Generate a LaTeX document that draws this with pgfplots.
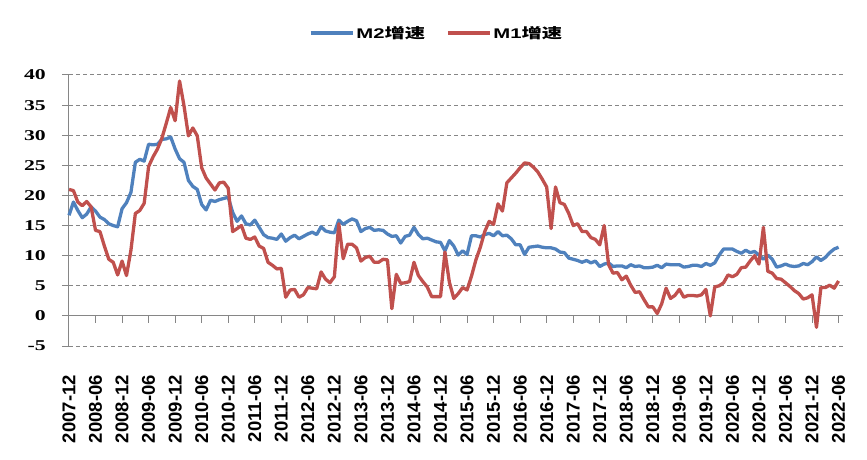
\documentclass[border=0pt]{standalone}
\usepackage{fontspec}
\usepackage{graphicx}
\usepackage{pgfplots}
\usepackage{pgfplotstable}
\pgfplotsset{compat=1.18}
\setmainfont{Liberation Serif}
\newfontfamily\timesfont{Liberation Serif}
\newfontfamily\arialfont{Liberation Sans}
\newfontfamily\cjk{Noto Sans CJK SC}
\definecolor{m2blue}{HTML}{4F81BD}
\definecolor{m1red}{HTML}{C0504D}
\definecolor{axgray}{HTML}{868686}

% month index (0 = 2007-12), M2 and M1 year-on-year growth
\pgfplotstableread{
t m2 m1
0 16.7 21.0
1 18.9 20.8
2 17.5 18.9
3 16.3 18.3
4 16.9 19.0
5 18.1 18.1
6 17.4 14.2
7 16.4 14.0
8 16.0 11.6
9 15.3 9.4
10 15.0 8.9
11 14.8 6.8
12 17.8 9.1
13 18.8 6.7
14 20.5 10.9
15 25.5 17.0
16 26.0 17.5
17 25.7 18.7
18 28.5 24.8
19 28.4 26.4
20 28.5 27.7
21 29.3 29.5
22 29.4 32.0
23 29.7 34.6
24 27.7 32.4
25 26.1 39.0
26 25.5 34.9
27 22.5 29.9
28 21.5 31.2
29 21.0 29.9
30 18.5 24.6
31 17.6 22.9
32 19.2 21.9
33 19.0 20.9
34 19.3 22.1
35 19.5 22.2
36 19.7 21.2
37 17.2 14.0
38 15.7 14.5
39 16.6 15.0
40 15.3 12.9
41 15.1 12.7
42 15.9 13.1
43 14.7 11.6
44 13.5 11.2
45 13.0 8.9
46 12.9 8.4
47 12.7 7.8
48 13.6 7.9
49 12.4 3.1
50 13.0 4.3
51 13.4 4.4
52 12.8 3.1
53 13.2 3.5
54 13.6 4.7
55 13.9 4.6
56 13.5 4.5
57 14.8 7.3
58 14.1 6.1
59 13.9 5.5
60 13.8 6.5
61 15.9 15.3
62 15.2 9.5
63 15.7 11.9
64 16.1 11.9
65 15.8 11.3
66 14.0 9.1
67 14.5 9.7
68 14.7 9.9
69 14.2 8.9
70 14.3 8.9
71 14.2 9.4
72 13.6 9.3
73 13.2 1.2
74 13.3 6.9
75 12.1 5.4
76 13.2 5.5
77 13.4 5.7
78 14.7 8.9
79 13.5 6.7
80 12.8 5.7
81 12.9 4.8
82 12.6 3.2
83 12.3 3.2
84 12.2 3.2
85 10.8 10.6
86 12.5 5.6
87 11.6 2.9
88 10.1 3.7
89 10.8 4.7
90 10.2 4.3
91 13.3 6.6
92 13.3 9.3
93 13.1 11.4
94 13.5 14.0
95 13.7 15.7
96 13.3 15.2
97 14.0 18.6
98 13.3 17.4
99 13.4 22.1
100 12.8 22.9
101 11.8 23.7
102 11.8 24.6
103 10.2 25.4
104 11.4 25.3
105 11.5 24.7
106 11.6 23.9
107 11.4 22.7
108 11.3 21.4
109 11.3 14.5
110 11.1 21.4
111 10.6 18.8
112 10.5 18.5
113 9.6 17.0
114 9.4 15.0
115 9.2 15.3
116 8.9 14.0
117 9.2 14.0
118 8.8 13.0
119 9.1 12.7
120 8.2 11.8
121 8.6 15.0
122 8.8 8.5
123 8.2 7.1
124 8.3 7.2
125 8.3 6.0
126 8.0 6.6
127 8.5 5.1
128 8.2 3.9
129 8.3 4.0
130 8.0 2.7
131 8.0 1.5
132 8.1 1.5
133 8.4 0.4
134 8.0 2.0
135 8.6 4.6
136 8.5 2.9
137 8.5 3.4
138 8.5 4.4
139 8.1 3.1
140 8.2 3.4
141 8.4 3.4
142 8.4 3.3
143 8.2 3.5
144 8.7 4.4
145 8.4 0.0
146 8.8 4.8
147 10.1 5.0
148 11.1 5.5
149 11.1 6.8
150 11.1 6.5
151 10.7 6.9
152 10.4 8.0
153 10.9 8.1
154 10.5 9.1
155 10.7 10.0
156 10.1 8.6
157 9.4 14.7
158 10.1 7.4
159 9.4 7.1
160 8.1 6.2
161 8.3 6.1
162 8.6 5.5
163 8.3 4.9
164 8.2 4.2
165 8.3 3.7
166 8.7 2.8
167 8.5 3.0
168 9.0 3.5
169 9.8 -1.9
170 9.2 4.7
171 9.7 4.7
172 10.5 5.1
173 11.1 4.6
174 11.4 5.8
}\money

\newcommand\ylab[1]{\scalebox{1.45}[1]{\timesfont\bfseries\fontsize{15}{15}\selectfont #1}}

\begin{document}
\begin{tikzpicture}
\useasboundingbox (-69pt,-114pt) rectangle (798pt,346pt);
\begin{axis}[
  at={(0,0)}, anchor=south west,
  scale only axis, width=774pt, height=271pt,
  xmin=0, xmax=175, ymin=-5, ymax=40,
  separate axis lines,
  axis y line=left, axis x line=bottom,
  axis line style={-},
  y axis line style={axgray, line width=1pt},
  x axis line style={draw=none},
  ytick={-5,0,...,40},
  yticklabels={\ylab{-5},\ylab{0},\ylab{5},\ylab{10},\ylab{15},\ylab{20},\ylab{25},\ylab{30},\ylab{35},\ylab{40}},
  tick align=outside,
  major tick length=7pt,
  ytick style={axgray, line width=1pt},
  xtick style={draw=none},
  yticklabel style={anchor=east, inner sep=0pt, xshift=-16pt},
  xtick={0,6,...,174},
  xticklabels={2007-12,2008-06,2008-12,2009-06,2009-12,2010-06,2010-12,2011-06,2011-12,2012-06,2012-12,2013-06,2013-12,2014-06,2014-12,2015-06,2015-12,2016-06,2016-12,2017-06,2017-12,2018-06,2018-12,2019-06,2019-12,2020-06,2020-12,2021-06,2021-12,2022-06},
  xticklabel style={font=\arialfont\fontsize{18.5}{18.5}\selectfont\bfseries, rotate=90, anchor=east, inner sep=0pt},
  xticklabel shift=22pt,
  ymajorgrids,
  grid style={axgray, line width=1pt, dash pattern=on 4pt off 3pt},
  legend style={at={(0.475,1.155)}, anchor=center, draw=none, fill=none,
    /tikz/every even column/.append style={column sep=19pt}},
  legend columns=2,
  legend image code/.code={\draw[#1] (0pt,0pt) -- (42pt,0pt);},
  clip=false,
]
\draw[axgray, line width=1pt] (axis cs:0,0) -- (axis cs:175,0);
\pgfplotsinvokeforeach{6,12,...,174}{
  \draw[axgray, line width=1pt] (axis cs:#1,0) -- ++(0pt,-7pt);
}
\addplot[m2blue, line width=3.3pt, line join=round] table[x=t, y=m2] {\money};
\addlegendentry{\scalebox{1.45}[1]{\arialfont\fontsize{14}{14}\selectfont\bfseries M2\cjk\bfseries 增速}}
\addplot[m1red, line width=3.3pt, line join=round] table[x=t, y=m1] {\money};
\addlegendentry{\scalebox{1.45}[1]{\arialfont\fontsize{14}{14}\selectfont\bfseries M1\cjk\bfseries 增速}}
\end{axis}
\end{tikzpicture}
\end{document}
